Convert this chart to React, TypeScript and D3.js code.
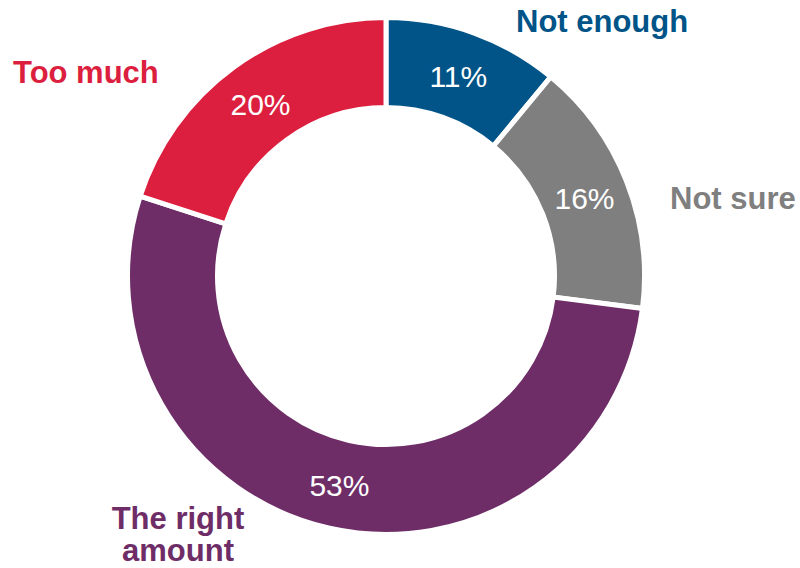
import React from "react";
import * as d3 from "d3";

const categories = ["Not enough", "Not sure", "The right amount", "Too much"];
const values = [11, 16, 53, 20];
const colors = ["#005487", "#7f7f7f", "#6e2d67", "#dc1f3e"];

const W = 800;
const H = 568;
const cx = 386;
const cy = 276;
const outerR = 258.5;
const innerR = 168.5;

type LabelSpec = { lines: string[]; x: number; y: number; anchor: string };
const catLabels: LabelSpec[] = [
  { lines: ["Not enough"], x: 516, y: 32, anchor: "start" },
  { lines: ["Not sure"], x: 670, y: 209, anchor: "start" },
  { lines: ["The right", "amount"], x: 178, y: 529, anchor: "middle" },
  { lines: ["Too much"], x: 13, y: 82.5, anchor: "start" },
];

export default function App() {
  const pie = d3.pie<number>().sort(null).value((d) => d);
  const arcs = pie(values);
  const arc = d3.arc<d3.PieArcDatum<number>>().innerRadius(innerR).outerRadius(outerR);
  const labelArc = d3
    .arc<d3.PieArcDatum<number>>()
    .innerRadius((innerR + outerR) / 2)
    .outerRadius((innerR + outerR) / 2);

  return (
    <svg
      width={W}
      height={H}
      style={{ position: "absolute", left: 0, top: 0, fontFamily: "'Liberation Sans', Arial, Helvetica, sans-serif" }}
    >
      <rect width={W} height={H} fill="#fff" />
      <g transform={`translate(${cx},${cy})`}>
        {arcs.map((a, i) => (
          <path key={i} d={arc(a) || ""} fill={colors[i]} stroke="#fff" strokeWidth={5} strokeLinejoin="miter" />
        ))}
        {arcs.map((a, i) => {
          const [x, y] = labelArc.centroid(a);
          return (
            <text key={"l" + i} x={x} y={y} dy="0.4em" textAnchor="middle" fill="#fff" fontSize={30}>
              {values[i]}%
            </text>
          );
        })}
      </g>
      {catLabels.map((l, i) => (
        <text
          key={categories[i]}
          x={l.x}
          y={l.y}
          textAnchor={l.anchor}
          fill={colors[i]}
          fontSize={31}
          fontWeight="bold"
        >
          {l.lines.map((ln, j) => (
            <tspan key={j} x={l.x} dy={j === 0 ? 0 : 32}>
              {ln}
            </tspan>
          ))}
        </text>
      ))}
    </svg>
  );
}
